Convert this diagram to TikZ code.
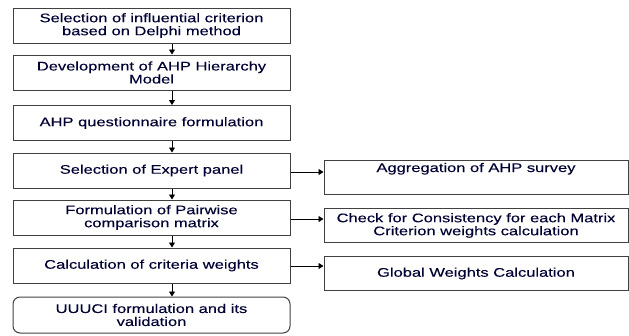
\documentclass[tikz,border=0pt]{standalone}
\usepackage{fontspec}
\setmainfont[FakeStretch=1.32,FakeBold=0.15]{Liberation Sans}
\usetikzlibrary{arrows.meta}
\begin{document}
\begin{tikzpicture}[x=1pt,y=-1pt,
  every node/.style={font=\fontsize{12.5}{13}\selectfont, text=black!80!blue},
  lbox/.style={draw=black!75, line width=1pt, minimum width=277pt, minimum height=35pt, align=center, inner sep=0pt},
  rbox/.style={draw=black!75, line width=1pt, minimum width=304pt, minimum height=34pt, align=center, inner sep=0pt},
  arr/.style={draw=black, line width=0.9pt, -{Triangle[length=5pt,width=6pt]}}]
\useasboundingbox (0,0) rectangle (629,335);
\node[lbox] (b1) at (151.5,25.5) {Selection of influential criterion\\based on Delphi method};
\node[lbox] (b2) at (151.5,72.5) {Development of AHP Hierarchy\\Model};
\node[lbox] (b3) at (151.5,123) {AHP questionnaire formulation};
\node[lbox] (b4) at (151.5,170.5) {Selection of Expert panel};
\node[lbox] (b5) at (151.5,217.5) {Formulation of Pairwise\\comparison matrix};
\node[lbox] (b6) at (151.5,265.5) {Calculation of criteria weights};
\node[lbox, rounded corners=7pt, minimum height=36pt] (b7) at (151.5,315) {UUUCI formulation and its\\validation};
\node[rbox, text height=10pt, text depth=20pt, inner ysep=2pt, minimum height=34pt] (r1) at (476,177) {Aggregation of AHP survey};
\node[rbox] (r2) at (476,225.5) {Check for Consistency for each Matrix\\Criterion weights calculation};
\node[rbox] (r3) at (476,273.5) {Global Weights Calculation};
\coordinate (ax) at (172,0);
\draw[arr] (b1.south -| ax) -- (b2.north -| ax);
\draw[arr] (b2.south -| ax) -- (b3.north -| ax);
\draw[arr] (b3.south -| ax) -- (b4.north -| ax);
\draw[arr] (b4.south -| ax) -- (b5.north -| ax);
\draw[arr] (b5.south -| ax) -- (b6.north -| ax);
\draw[arr] (b6.south -| ax) -- (b7.north -| ax);
\coordinate (h1) at (0,172);
\coordinate (h2) at (0,219);
\coordinate (h3) at (0,266);
\draw[arr] (b4.east |- h1) -- (r1.west |- h1);
\draw[arr] (b5.east |- h2) -- (r2.west |- h2);
\draw[arr] (b6.east |- h3) -- (r3.west |- h3);
\end{tikzpicture}
\end{document}
